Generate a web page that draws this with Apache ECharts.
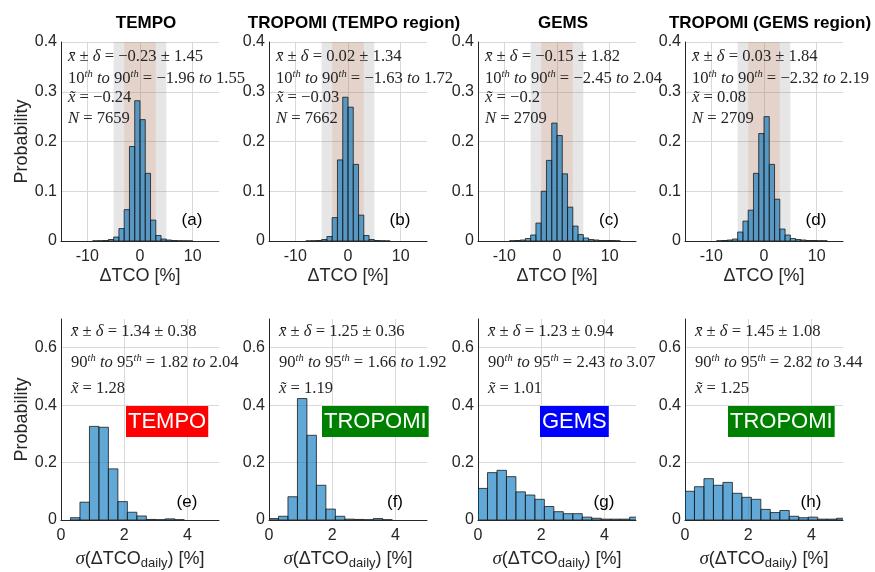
<!DOCTYPE html>
<html>
<head>
<meta charset="utf-8">
<script src="https://cdn.jsdelivr.net/npm/echarts@6/dist/echarts.min.js"></script>
<style>
  html, body { margin: 0; padding: 0; background: #fff; }
  #chart { width: 875px; height: 572px; }
</style>
</head>
<body>
<div id="chart"></div>
<script>
// ---- data ----
const titles = ['TEMPO', 'TROPOMI (TEMPO region)', 'GEMS', 'TROPOMI (GEMS region)'];

// top row: ΔTCO histograms, bins of width 1 starting at -9
const topBinStart = -9;
const topBinWidth = 1;
const histA = [0.0003, 0.0005, 0.001, 0.003, 0.008, 0.025, 0.063, 0.19, 0.282, 0.244, 0.136, 0.042, 0.011, 0.004, 0.002, 0.001, 0.0005, 0.0003, 0.0002, 0, 0];
const histB = [0, 0.0002, 0.0005, 0.001, 0.003, 0.009, 0.047, 0.163, 0.289, 0.269, 0.154, 0.052, 0.011, 0.003, 0.001, 0.0005, 0.0002, 0, 0, 0, 0];
const histC = [0.0005, 0.001, 0.002, 0.005, 0.012, 0.036, 0.1, 0.162, 0.237, 0.212, 0.135, 0.068, 0.03, 0.013, 0.006, 0.003, 0.002, 0.001, 0.001, 0.001, 0.0005];
const histD = [0.0005, 0.001, 0.002, 0.004, 0.018, 0.04, 0.062, 0.136, 0.216, 0.25, 0.154, 0.084, 0.024, 0.012, 0.005, 0.003, 0.002, 0.001, 0.001, 0.0005, 0.0005];

// bottom row: σ(ΔTCO_daily) histograms, bins of width 0.3 starting at 0
const botBinStart = 0;
const botBinWidth = 0.3;
const histE = [0, 0.008, 0.062, 0.326, 0.323, 0.178, 0.064, 0.027, 0.014, 0.002, 0.001, 0.004, 0.001, 0, 0, 0, 0];
const histF = [0.005, 0.013, 0.081, 0.423, 0.295, 0.121, 0.038, 0.013, 0.003, 0.002, 0.001, 0.005, 0.001, 0, 0, 0, 0];
const histG = [0.11, 0.165, 0.173, 0.151, 0.098, 0.087, 0.072, 0.047, 0.029, 0.022, 0.022, 0.01, 0.006, 0.003, 0.003, 0.003, 0.01];
const histH = [0.1, 0.116, 0.144, 0.121, 0.131, 0.093, 0.079, 0.072, 0.037, 0.026, 0.033, 0.013, 0.008, 0.01, 0.003, 0.003, 0.006];

// shaded bands in the top row
const bandLo = [-5, -3];
const bandHi = [5, 3];

// statistics printed in the panels
const meanTop = ['−0.23', '0.02', '−0.15', '0.03'];
const stdTop = ['1.45', '1.34', '1.82', '1.84'];
const p10Top = ['−1.96', '−1.63', '−2.45', '−2.32'];
const p90Top = ['1.55', '1.72', '2.04', '2.19'];
const medTop = ['−0.24', '−0.03', '−0.2', '0.08'];
const nTop = ['7659', '7662', '2709', '2709'];

const meanBot = ['1.34', '1.25', '1.23', '1.45'];
const stdBot = ['0.38', '0.36', '0.94', '1.08'];
const p90Bot = ['1.82', '1.66', '2.43', '2.82'];
const p95Bot = ['2.04', '1.92', '3.07', '3.44'];
const medBot = ['1.28', '1.19', '1.01', '1.25'];

const tagText = ['TEMPO', 'TROPOMI', 'GEMS', 'TROPOMI'];
const tagColor = ['#ff0000', '#008000', '#0000ff', '#008000'];
const lettersTop = ['(a)', '(b)', '(c)', '(d)'];
const lettersBot = ['(e)', '(f)', '(g)', '(h)'];

// ---- layout ----
const colLeft = [61, 269, 478, 685];
const colW = 158;
const topRow = { top: 42, height: 199 };
const botRow = { top: 319, height: 201 };
const tagLeft = [126, 322, 540, 728];

const sans = 'Liberation Sans';
const serif = 'Liberation Serif';
const ink = '#262626';
const gridColor = '#d9d9d9';
const barFill = 'rgba(0,114,189,0.62)';
const bandColors = ['rgba(140,140,140,0.22)', 'rgba(217,83,25,0.13)'];

const chart = echarts.init(document.getElementById('chart'));

function fmt(v) {
  if (Math.abs(v) < 1e-9) return '0';
  return String(+v.toFixed(2));
}

function histData(values, start, width) {
  return values.map((v, i) => [start + i * width, start + (i + 1) * width, v]);
}

function histItem(params, api) {
  const h = api.value(2);
  if (!h) return null;
  const p0 = api.coord([api.value(0), h]);
  const p1 = api.coord([api.value(1), 0]);
  return {
    type: 'rect',
    shape: { x: p0[0], y: p0[1], width: p1[0] - p0[0], height: p1[1] - p0[1] },
    style: { fill: barFill, stroke: '#1a1a1a', lineWidth: 0.8 }
  };
}

function bandItem(params, api) {
  const cs = params.coordSys;
  const a = api.coord([api.value(0), 0]);
  const b = api.coord([api.value(1), 0]);
  return {
    type: 'rect',
    shape: { x: a[0], y: cs.y, width: b[0] - a[0], height: cs.height },
    style: { fill: bandColors[params.dataIndex] }
  };
}

const grids = [], xAxes = [], yAxes = [], series = [], titleList = [], graphics = [];

const tickLabel = { fontFamily: sans, fontSize: 16, color: ink };
const axisLine = { show: true, onZero: false, lineStyle: { color: ink, width: 1 } };
const splitLine = { show: true, showMinLine: false, showMaxLine: false, lineStyle: { color: gridColor, width: 1 } };

const mathSize = 16.6;
const mathRich = {
  r: { fontFamily: serif, fontSize: mathSize, color: ink, lineHeight: 20, verticalAlign: 'middle' },
  i: { fontFamily: serif, fontStyle: 'italic', fontSize: mathSize, color: ink, lineHeight: 20, verticalAlign: 'middle' },
  s: { fontFamily: serif, fontStyle: 'italic', fontSize: 10.5, color: ink, lineHeight: 11, verticalAlign: 'top' }
};

function mathText(x, y, text) {
  graphics.push({
    type: 'text', left: x, top: y - 10, z: 10,
    style: { text: text, rich: mathRich, fontFamily: serif, fontSize: mathSize, fill: ink }
  });
}

const topHists = [histA, histB, histC, histD];
const botHists = [histE, histF, histG, histH];

for (let c = 0; c < 4; c++) {
  // ---- top panel ----
  let g = grids.length;
  grids.push({ left: colLeft[c], top: topRow.top, width: colW, height: topRow.height });
  xAxes.push({
    type: 'value', gridIndex: g, min: -15, max: 15, splitNumber: 3,
    name: 'ΔTCO [%]', nameLocation: 'middle', nameGap: 26,
    nameTextStyle: { fontFamily: sans, fontSize: 18, color: ink },
    axisLine: axisLine, axisTick: { show: false },
    axisLabel: Object.assign({ margin: 8, showMinLabel: false, showMaxLabel: false, formatter: fmt }, tickLabel),
    splitLine: splitLine
  });
  yAxes.push({
    type: 'value', gridIndex: g, min: 0, max: 0.4, interval: 0.1,
    name: c === 0 ? 'Probability' : '', nameLocation: 'middle', nameGap: 29,
    nameTextStyle: { fontFamily: sans, fontSize: 18, color: ink },
    axisLine: axisLine, axisTick: { show: false },
    axisLabel: Object.assign({ margin: 4, formatter: fmt }, tickLabel),
    splitLine: { show: true, lineStyle: { color: gridColor, width: 1 } }
  });
  series.push({
    type: 'custom', xAxisIndex: g, yAxisIndex: g, silent: true, clip: true,
    renderItem: bandItem, encode: { x: [0, 1] },
    data: bandLo.map((lo, i) => [lo, bandHi[i]]), z: 1
  });
  series.push({
    type: 'custom', xAxisIndex: g, yAxisIndex: g, silent: true, clip: true,
    renderItem: histItem, encode: { x: [0, 1], y: 2 },
    data: histData(topHists[c], topBinStart, topBinWidth), z: 2
  });
  titleList.push({
    text: titles[c], left: colLeft[c] + colW / 2 + 1, top: 10, textAlign: 'center',
    textStyle: { fontFamily: sans, fontSize: 17, fontWeight: 'bold', color: '#000' }
  });
  const tx = colLeft[c] + 7;
  mathText(tx, topRow.top + 16, '{i|x\u0304}{r| ± }{i|δ}{r| = ' + meanTop[c] + ' ± ' + stdTop[c] + '}');
  mathText(tx, topRow.top + 37, '{r|10}{s|th}{i| to }{r|90}{s|th}{r| = ' + p10Top[c] + '}{i| to }{r|' + p90Top[c] + '}');
  mathText(tx, topRow.top + 57, '{i|x\u0303}{r| = ' + medTop[c] + '}');
  mathText(tx, topRow.top + 78, '{i|N}{r| = ' + nTop[c] + '}');
  graphics.push({
    type: 'text', x: colLeft[c] + 131, y: topRow.top + topRow.height - 21, z: 10,
    style: { text: lettersTop[c], fontFamily: sans, fontSize: 17, fill: '#000', align: 'center', verticalAlign: 'middle' }
  });

  // ---- bottom panel ----
  g = grids.length;
  grids.push({ left: colLeft[c], top: botRow.top, width: colW, height: botRow.height });
  xAxes.push({
    type: 'value', gridIndex: g, min: 0, max: 5, interval: 2,
    name: '{i|σ}{m|(ΔTCO}{sub|daily}{m|) [%]}', nameLocation: 'middle', nameGap: 27,
    nameTextStyle: {
      fontFamily: sans, fontSize: 18, color: ink,
      rich: {
        m: { fontFamily: sans, fontSize: 18, color: ink, lineHeight: 20, verticalAlign: 'top' },
        i: { fontFamily: serif, fontStyle: 'italic', fontSize: 19, color: ink, lineHeight: 20, verticalAlign: 'top' },
        sub: { fontFamily: sans, fontSize: 13, color: ink, lineHeight: 14, verticalAlign: 'bottom', padding: [12, 0, 0, 0] }
      }
    },
    axisLine: axisLine, axisTick: { show: false },
    axisLabel: Object.assign({ margin: 8, showMaxLabel: false, formatter: fmt }, tickLabel),
    splitLine: splitLine
  });
  yAxes.push({
    type: 'value', gridIndex: g, min: 0, max: 0.7, interval: 0.2,
    name: c === 0 ? 'Probability' : '', nameLocation: 'middle', nameGap: 29,
    nameTextStyle: { fontFamily: sans, fontSize: 18, color: ink },
    axisLine: axisLine, axisTick: { show: false },
    axisLabel: Object.assign({ margin: 4, showMaxLabel: false, formatter: fmt }, tickLabel),
    splitLine: splitLine
  });
  series.push({
    type: 'custom', xAxisIndex: g, yAxisIndex: g, silent: true, clip: true,
    renderItem: histItem, encode: { x: [0, 1], y: 2 },
    data: histData(botHists[c], botBinStart, botBinWidth), z: 2
  });
  const bx = colLeft[c] + 10;
  mathText(bx, botRow.top + 14, '{i|x\u0304}{r| ± }{i|δ}{r| = ' + meanBot[c] + ' ± ' + stdBot[c] + '}');
  mathText(bx, botRow.top + 44, '{r|90}{s|th}{i| to }{r|95}{s|th}{r| = ' + p90Bot[c] + '}{i| to }{r|' + p95Bot[c] + '}');
  mathText(bx, botRow.top + 71, '{i|x\u0303}{r| = ' + medBot[c] + '}');
  graphics.push({
    type: 'text', left: tagLeft[c], top: 406, z: 10,
    style: {
      text: tagText[c], fontFamily: sans, fontSize: 22, fill: '#fff', lineHeight: 25,
      backgroundColor: tagColor[c], padding: [3, 2, 3, 2]
    }
  });
  graphics.push({
    type: 'text', x: colLeft[c] + 126, y: botRow.top + botRow.height - 18, z: 10,
    style: { text: lettersBot[c], fontFamily: sans, fontSize: 17, fill: '#000', align: 'center', verticalAlign: 'middle' }
  });
}

chart.setOption({
  backgroundColor: '#ffffff',
  animation: false,
  title: titleList,
  grid: grids,
  xAxis: xAxes,
  yAxis: yAxes,
  series: series,
  graphic: graphics
});
</script>
</body>
</html>
